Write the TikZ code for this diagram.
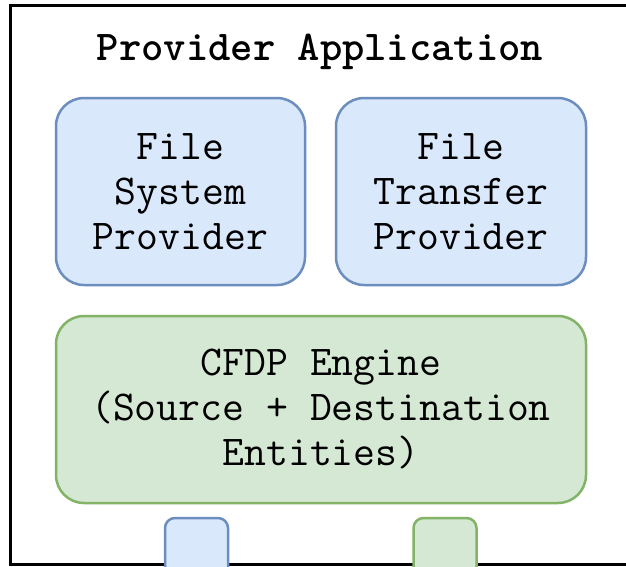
\documentclass[tikz,border=0pt]{standalone}
\usepackage{fontspec}
\definecolor{bluefill}{HTML}{DAE8FC}
\definecolor{bluedraw}{HTML}{6C8EBF}
\definecolor{greenfill}{HTML}{D5E8D4}
\definecolor{greendraw}{HTML}{82B366}
\tikzset{
  box/.style={rectangle, rounded corners=28pt, line width=2.5pt, inner sep=0pt, align=center,
    font=\ttfamily\fontsize{42.5}{45}\selectfont},
  bluebox/.style={box, draw=bluedraw, fill=bluefill},
  greenbox/.style={box, draw=greendraw, fill=greenfill},
  port/.style={rectangle, rounded corners=10pt, line width=2.5pt, inner sep=0pt,
    minimum width=63pt, minimum height=90pt},
}
\begin{document}
\begin{tikzpicture}[x=1pt,y=-1pt]
\useasboundingbox (0,0) rectangle (626,566);
\fill[white] (0,0) rectangle (626,566);
\clip (0,0) rectangle (626,566);
\node[draw=black, line width=3pt, rectangle, minimum width=650pt, minimum height=559pt, inner sep=0pt]
  (app) at (335,284.5) {};
\node[font=\ttfamily\bfseries\fontsize{42.5}{45}\selectfont] (title) at (320,52) {Provider Application};
\node[bluebox, minimum width=249pt, minimum height=187pt] (fsp) at (180.5,191.5) {File\\System\\Provider};
\node[bluebox, minimum width=250pt, minimum height=187pt] (ftp) at (461,191.5) {File\\Transfer\\Provider};
\node[greenbox, minimum width=530pt, minimum height=187pt] (cfdp) at (321,409.5) {CFDP Engine\\(Source + Destination\\Entities)};
\node[port, draw=bluedraw, fill=bluefill] (p1) at (196.5,563) {};
\node[port, draw=greendraw, fill=greenfill] (p2) at (445,563) {};
\end{tikzpicture}
\end{document}
